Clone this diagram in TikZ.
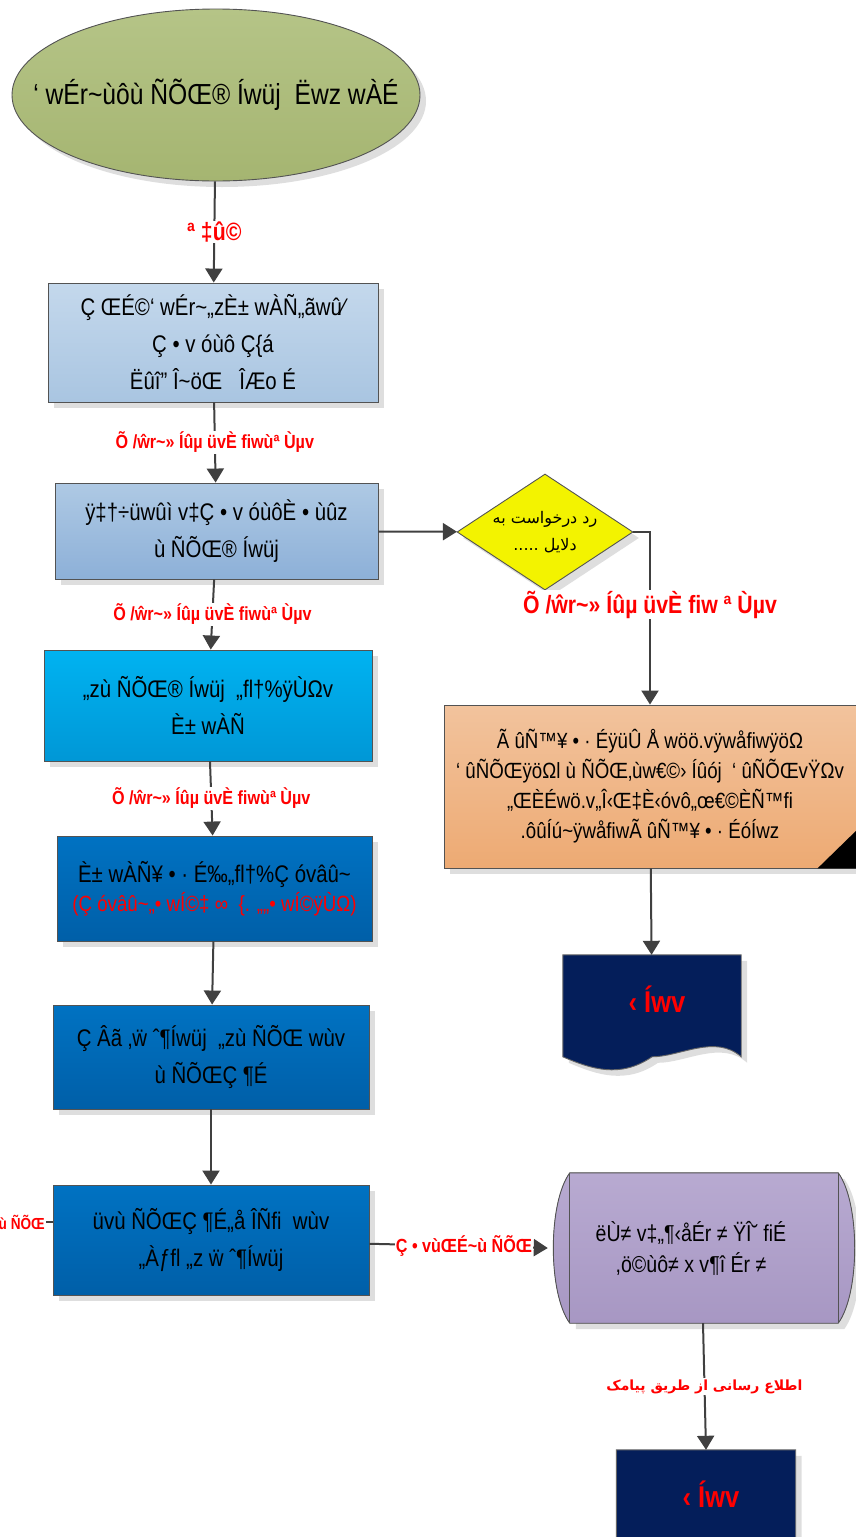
\documentclass[tikz,border=0pt]{standalone}
\usepackage{fontspec}
\setmainfont{Liberation Sans}
\newfontfamily\narrowfont[FakeStretch=0.85]{Liberation Sans}
\newfontfamily\arabicfont[Script=Arabic]{DejaVu Sans}
\TeXXeTstate=1
\usepackage{tikz}
\usetikzlibrary{calc, positioning, arrows.meta, shapes.geometric, shadows}

\definecolor{olivetop}{HTML}{B5C487}
\definecolor{olivebot}{HTML}{A5B571}
\definecolor{paletop}{HTML}{C4D8EC}
\definecolor{palebot}{HTML}{A9C5E1}
\definecolor{midtop}{HTML}{AEC9E4}
\definecolor{midbot}{HTML}{8DB0D8}
\definecolor{cyantop}{HTML}{00B3F1}
\definecolor{cyanbot}{HTML}{0097D6}
\definecolor{bluetop}{HTML}{0072C2}
\definecolor{bluebot}{HTML}{005FA8}
\definecolor{navy}{HTML}{041E5A}
\definecolor{peachtop}{HTML}{F2C39D}
\definecolor{peachbot}{HTML}{EDAA73}
\definecolor{liltop}{HTML}{B8AAD1}
\definecolor{lilbot}{HTML}{A797C3}
\definecolor{edge}{HTML}{404040}
\definecolor{lemon}{HTML}{F3F300}

\tikzset{
    box/.style={draw=edge!90, line width=0.9pt, align=center, inner sep=0pt,
        drop shadow={shadow xshift=6pt, shadow yshift=-6pt, fill=black!13, opacity=1},
        font=\narrowfont\fontsize{24}{37}\selectfont},
    flow/.style={draw=edge, line width=2pt, -{Triangle[width=17pt,length=14pt]}},
    lbl/.style={fill=white, text=red, inner sep=1pt, font=\narrowfont\bfseries\fontsize{19}{22}\selectfont},
    doctext/.style={text=red, font=\narrowfont\bfseries\fontsize{30}{32}\selectfont}
}

\begin{document}
\begin{tikzpicture}[x=1pt, y=1pt]

    \useasboundingbox (0,0) rectangle (856,-1537);

    % start ellipse
    \node[ellipse, box, top color=olivetop, bottom color=olivebot,
        minimum width=408pt, minimum height=172pt,
        font=\narrowfont\fontsize{29}{36}\selectfont] (start) at (216,-95)
        {\makebox[0pt]{‘ wÉr\textasciitilde ùôù ÑÕŒ® Íwüj \ Ëwz wÀÉ}};

    % left column boxes
    \node[box, top color=paletop, bottom color=palebot, minimum width=330pt, minimum height=119pt] (b1) at (213,-342.5)
        {Ç ŒÉ©‘ wÉr\textasciitilde„zÈ± wÀÑ„ãwû⁄\\Ç • v óùô Ç\{á\\Ëûî” Î\textasciitilde öŒ \ \ ÎÆo É};
    \node[box, top color=midtop, bottom color=midbot, minimum width=323pt, minimum height=96pt] (b2) at (216.5,-531)
        {ÿ‡†÷üwûì v‡Ç • v óùôÈ • ùûz\\ù ÑÕŒ® Íwüj};
    \node[box, top color=cyantop, bottom color=cyanbot, minimum width=328pt, minimum height=111pt] (b3) at (208,-705.5)
        {„zù ÑÕŒ® Íwüj \ „ﬂ†\%ÿÙΩv\\È± wÀÑ};
    \node[box, top color=bluetop, bottom color=bluebot, minimum width=315pt, minimum height=105pt] (b4) at (214.5,-888.5)
        {È± wÀÑ¥ • · É‰„ﬂ†\%Ç óvâû\textasciitilde\\[-8pt]
        {\color{red}\fontsize{22}{26}\selectfont (Ç óvâû\textasciitilde„• wÍ©‡ ∞ \ \{. „„• wÍ©ÿÙΩ)}};
    \node[box, top color=bluetop, bottom color=bluebot, minimum width=316pt, minimum height=104pt] (b5) at (211,-1057)
        {Ç Âã ‚ẅ ˆ¶Íwüj \ „zù ÑÕŒ wùv\\ù ÑÕŒÇ ¶É};
    \node[box, top color=bluetop, bottom color=bluebot, minimum width=316pt, minimum height=110pt] (b6) at (211,-1240)
        {üvù ÑÕŒÇ ¶É„å ÎÑﬁ \ wùv\\„Àƒﬂ „z ẅ ˆ¶Íwüj};

    % decision
    \node[diamond, box, fill=lemon, aspect=1.52, minimum width=176pt, minimum height=116pt,
        font=\arabicfont\fontsize{16}{27}\selectfont] (dia) at (545,-532)
        {\makebox[0pt]{\beginR رد درخواست به\endR}\\\makebox[0pt]{\beginR دلایل .....\endR}};

    % note with corner
    \node[box, top color=peachtop, bottom color=peachbot, minimum width=412pt, minimum height=163pt,
        font=\narrowfont\fontsize{22}{30}\selectfont] (note) at (650,-786.5)
        {Ã ûÑ™¥ • · ÉÿüÛ Å wöö.vÿwåﬁwÿöΩ\\‘ ûÑÕŒÿöΩl ù ÑÕŒ‚ùw€©› Íûój \ ‘ ûÑÕŒvŸΩv\\„ŒÈÉwö.v„Î‹Œ‡È‹óvô„œ€©ÈÑ™ﬁ\\.ôûÍú\textasciitilde ÿwåﬁwÃ ûÑ™¥ • · ÉóÍwz};
    \fill (note.south east) -- ++(-39,0) -- ++(39,38) -- cycle;

    % document shapes
    \node[minimum width=178pt, minimum height=90pt] (doc1) at (652,-1000) {};
    \node[minimum width=179pt, minimum height=90pt] (doc2) at (706,-1495) {};
    \foreach \d in {doc1,doc2}{
        \fill[black!13] ($(\d.north west)+(6,-6)$) -- ($(\d.north east)+(6,-6)$) -- ($(\d.north east)+(6,-108)$)
            .. controls +(-26,23) and +(28,0) .. ($(\d.north)+(6,-108)$)
            .. controls +(-32,-22) and +(28,-12) .. ($(\d.north west)+(6,-108)$) -- cycle;
        \filldraw[fill=navy, draw=edge!80, line width=0.9pt] (\d.north west) -- (\d.north east) -- ($(\d.north east)+(0,-102)$)
            .. controls +(-26,23) and +(28,0) .. ($(\d.north)+(0,-102)$)
            .. controls +(-32,-22) and +(28,-12) .. ($(\d.north west)+(0,-102)$) -- cycle;
        \node[doctext] (\d-t) at ($(\d.north)+(5,-44)$) {‹ Íwv};
    }

    % storage cylinder
    \node[minimum width=310pt, minimum height=150pt] (store) at (703,-1248) {};
    \fill[black!13] ($(store.north west)+(28,-6)$) -- ($(store.north east)+(-14,-6)$)
        .. controls +(22,-30) and +(22,30) .. ($(store.south east)+(-14,-6)$)
        -- ($(store.south west)+(28,-6)$) -- cycle;
    \filldraw[top color=liltop, bottom color=lilbot, draw=edge!90, line width=0.9pt]
        ($(store.north west)+(22,0)$) -- ($(store.north east)+(-20,0)$)
        .. controls +(22,-30) and +(22,30) .. ($(store.south east)+(-20,0)$)
        -- ($(store.south west)+(22,0)$)
        .. controls +(-22,30) and +(-22,-30) .. ($(store.north west)+(22,0)$) -- cycle;
    \draw[edge!90, line width=0.9pt] ($(store.north west)+(22,0)$) -- ($(store.south west)+(22,0)$);
    \draw[edge!90, line width=0.9pt] ($(store.north east)+(-20,0)$) -- ($(store.south east)+(-20,0)$);
    \node[align=center, font=\narrowfont\fontsize{23}{31}\selectfont] (store-t) at ($(store)+(-12,0)$)
        {ëÙ≠ v‡„¶‹åÉr ≠ ŸÎ˘ ﬁÉ\\,ö©ùô≠ x v¶î Ér ≠};

    % connectors
    \draw[flow] (start) -- (b1) node[lbl, midway, font=\narrowfont\bfseries\fontsize{25}{28}\selectfont] {ª ‡û©};
    \draw[flow] (b1) -- (b2) node[lbl, midway] {Õ /ŵr\textasciitilde» Íûµ üvÈ ﬁwùª Ùµv};
    \draw[flow] (b2) -- (b3) node[lbl, midway] {Õ /ŵr\textasciitilde» Íûµ üvÈ ﬁwùª Ùµv};
    \draw[flow] (b3) -- (b4) node[lbl, midway] {Õ /ŵr\textasciitilde» Íûµ üvÈ ﬁwùª Ùµv};
    \draw[flow] (b4) -- (b5);
    \draw[flow] (b5) -- (b6);
    \draw[flow] (b2) -- (dia);
    \draw[flow] (dia.east) -| (note.north)
        node[lbl, pos=0.71, font=\narrowfont\bfseries\fontsize{25}{28}\selectfont] {Õ /ŵr\textasciitilde» Íûµ üvÈ ﬁw ª Ùµv};
    \draw[flow] (note) -- (doc1);
    \draw[flow] (b6) -- (store.west) node[lbl, pos=0.53] {Ç • vùŒÉ\textasciitilde ù ÑÕŒ};
    \draw[flow] (store.south) -- (doc2.north)
        node[lbl, midway, font=\arabicfont\bfseries\fontsize{14}{18}\selectfont] {\beginR اطلاع رسانی از طریق پیامک\endR};

    % label at the left edge
    \node[lbl, anchor=east, font=\narrowfont\bfseries\fontsize{16}{18}\selectfont] (lft) at (46,-1222) {ù ÑÕŒ};
    \draw[edge, line width=2pt] (lft.east) -- (lft.east -| b6.west);

\end{tikzpicture}
\end{document}
